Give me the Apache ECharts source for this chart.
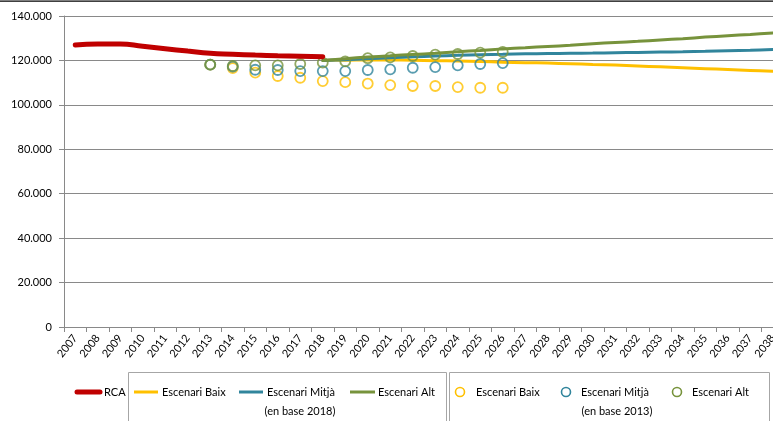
<!DOCTYPE html>
<html><head><meta charset="utf-8">
<script src="https://cdn.jsdelivr.net/npm/echarts@6/dist/echarts.min.js"></script>
<style>html,body{margin:0;padding:0;background:#fff}#c{width:773px;height:421px}</style>
</head><body><div id="c"></div>
<script>
const years = ['2007','2008','2009','2010','2011','2012','2013','2014','2015','2016','2017','2018','2019','2020','2021','2022','2023','2024','2025','2026','2027','2028','2029','2030','2031','2032','2033','2034','2035','2036','2037','2038'];
const yTicks = [0, 20000, 40000, 60000, 80000, 100000, 120000, 140000];
// RCA 2007-2018
const rca = [126900,127400,127400,126400,125300,124200,123200,122800,122400,122100,121900,121700];
// Scenarios base 2018: 2018-2038
const baix2018 = [120000,120100,120200,120200,120100,119900,119700,119500,119200,119000,118800,118500,118200,117900,117500,117100,116700,116300,115900,115500,115100];
const mitja2018 = [120000,120300,120700,121200,121600,122000,122300,122600,122800,123000,123100,123200,123300,123500,123600,123800,123900,124100,124400,124600,124900];
const alt2018 = [120000,120800,121500,122100,122700,123200,123900,124500,125200,125700,126300,126800,127500,128100,128600,129200,129800,130500,131100,131700,132400];
// Scenarios base 2013: 2013-2026
const baix2013 = [118100,116600,114500,113000,112200,110700,110200,109600,108900,108500,108500,108000,107700,107700];
const mitja2013 = [118100,117200,115800,115700,115200,115200,115200,115700,116000,116700,117000,117800,118400,118800];
const alt2013 = [118100,117500,117800,117800,118400,119000,119600,121000,121400,122000,122600,122900,123500,123800];

function place(arr, startYear) {
  const i0 = years.indexOf(startYear);
  return years.map((y, i) => (i >= i0 && i - i0 < arr.length) ? arr[i - i0] : null);
}
const C = {red:'#C00000', yel:'#FFC000', blu:'#31859C', grn:'#77933C'};
const FONT = 'Lato';
const fmt = v => String(v).replace(/\B(?=(\d{3})+(?!\d))/g, '.');

const chart = echarts.init(document.getElementById('c'), null, {renderer:'canvas'});
function lineS(name, data, color, w, smooth, z) {
  return {name, type:'line', data, symbol:'none', smooth, connectNulls:false,
    lineStyle:{color, width:w, cap:'round'}, itemStyle:{color}, z, animation:false};
}
function dotS(name, data, color) {
  return {name, type:'scatter', data, symbol:'circle', symbolSize:10,
    itemStyle:{color:'rgba(255,255,255,0)', borderColor:color, borderWidth:1.8}, z:5, animation:false};
}
const tStyle = {fontFamily:FONT, fontSize:11, fill:'#000'};
const legendG = [
  {type:'rect', shape:{x:0, y:0.5, width:773, height:1.2}, style:{fill:'#000'}},
  {type:'rect', shape:{x:128.5, y:372.5, width:318, height:60}, style:{fill:'none', stroke:'#A6A6A6', lineWidth:1}},
  {type:'rect', shape:{x:449.5, y:372.5, width:320, height:60}, style:{fill:'none', stroke:'#A6A6A6', lineWidth:1}},
  {type:'line', shape:{x1:77, y1:392, x2:100, y2:392}, style:{stroke:C.red, lineWidth:5, lineCap:'round'}},
  {type:'text', x:104, y:392, style:Object.assign({text:'RCA', verticalAlign:'middle'}, tStyle)},
  {type:'line', shape:{x1:134, y1:392, x2:158, y2:392}, style:{stroke:C.yel, lineWidth:3}},
  {type:'text', x:162, y:392, style:Object.assign({text:'Escenari Baix', verticalAlign:'middle'}, tStyle)},
  {type:'line', shape:{x1:239, y1:392, x2:263, y2:392}, style:{stroke:C.blu, lineWidth:3}},
  {type:'text', x:267, y:392, style:Object.assign({text:'Escenari Mitjà', verticalAlign:'middle'}, tStyle)},
  {type:'line', shape:{x1:350, y1:392, x2:375, y2:392}, style:{stroke:C.grn, lineWidth:3}},
  {type:'text', x:378, y:392, style:Object.assign({text:'Escenari Alt', verticalAlign:'middle'}, tStyle)},
  {type:'text', x:300, y:411, style:Object.assign({text:'(en base 2018)', align:'center', verticalAlign:'middle'}, tStyle)},
  {type:'circle', shape:{cx:460, cy:392, r:4.5}, style:{fill:'#fff', stroke:C.yel, lineWidth:1.6}},
  {type:'text', x:476, y:392, style:Object.assign({text:'Escenari Baix', verticalAlign:'middle'}, tStyle)},
  {type:'circle', shape:{cx:566, cy:392, r:4.5}, style:{fill:'#fff', stroke:C.blu, lineWidth:1.6}},
  {type:'text', x:581, y:392, style:Object.assign({text:'Escenari Mitjà', verticalAlign:'middle'}, tStyle)},
  {type:'circle', shape:{cx:677, cy:392, r:4.5}, style:{fill:'#fff', stroke:C.grn, lineWidth:1.6}},
  {type:'text', x:692, y:392, style:Object.assign({text:'Escenari Alt', verticalAlign:'middle'}, tStyle)},
  {type:'text', x:617, y:411, style:Object.assign({text:'(en base 2013)', align:'center', verticalAlign:'middle'}, tStyle)}
];

chart.setOption({
  backgroundColor:'#fff',
  animation:false,
  grid:{left:64, top:16, width:720, height:311, containLabel:false, outerBoundsMode:'none'},
  xAxis:{type:'category', data:years, boundaryGap:true,
    axisLine:{lineStyle:{color:'#898989', width:1}},
    axisTick:{show:true, length:5, lineStyle:{color:'#898989'}},
    axisLabel:{rotate:52, interval:0, fontFamily:FONT, fontSize:11, color:'#000', margin:9, hideOverlap:false},
    splitLine:{show:false}},
  yAxis:{type:'value', min:yTicks[0], max:yTicks[yTicks.length-1], interval:20000,
    axisLine:{show:true, lineStyle:{color:'#898989'}},
    axisTick:{show:true, length:5, lineStyle:{color:'#898989'}},
    axisLabel:{fontFamily:FONT, fontSize:11, color:'#000', margin:12, formatter:v => fmt(v)},
    splitLine:{lineStyle:{color:'#898989', width:1}}},
  series:[
    lineS('Escenari Baix (2018)', place(baix2018,'2018'), C.yel, 3, 0.3, 2),
    lineS('Escenari Mitjà (2018)', place(mitja2018,'2018'), C.blu, 3, 0.3, 3),
    lineS('Escenari Alt (2018)', place(alt2018,'2018'), C.grn, 3, 0.3, 4),
    dotS('Escenari Baix (2013)', place(baix2013,'2013'), C.yel),
    dotS('Escenari Mitjà (2013)', place(mitja2013,'2013'), C.blu),
    dotS('Escenari Alt (2013)', place(alt2013,'2013'), C.grn),
    lineS('RCA', place(rca,'2007'), C.red, 5, 0.5, 6)
  ],
  graphic:legendG
});
</script></body></html>
